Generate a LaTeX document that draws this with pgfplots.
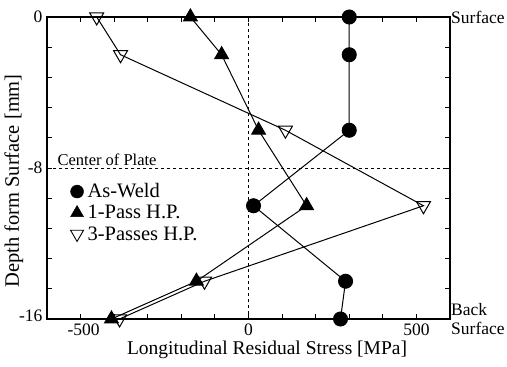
\documentclass[border=0pt]{standalone}
\usepackage{pgfplots}
\pgfplotsset{compat=1.18}
\usepackage{fontspec}
\setmainfont{Liberation Serif}
\begin{document}
\begin{tikzpicture}
\useasboundingbox (-47pt,-48pt) rectangle (460pt,319pt);
\begin{axis}[
  at={(0pt,0pt)}, anchor=south west,
  scale only axis,
  width=403pt, height=302pt,
  xmin=-600, xmax=600, ymin=-16, ymax=0,
  xtick={-500,0,500}, ytick={-16,-8,0},
  xticklabels={\hspace{6pt}-500, 0, 500},
  yticklabels={\raisebox{7pt}{-16}, -8, \raisebox{-6pt}{0}},
  minor x tick num=4, minor y tick num=4,
  tick pos=both, tick align=inside,
  major tick length=5pt, minor tick length=5pt,
  xticklabel pos=lower, yticklabel pos=left,
  axis line style={line width=1.3pt},
  every tick/.style={black, line width=0.9pt},
  ticklabel style={font=\fontsize{17.5}{19}\selectfont},
  xticklabel style={yshift=-1pt},
  yticklabel style={xshift=-1pt},
  xlabel={Longitudinal Residual Stress [MPa]},
  ylabel={Depth form Surface [mm]},
  xlabel style={font=\fontsize{19.5}{21}\selectfont, at={(axis description cs:0.546,-0.103)}, anchor=center},
  ylabel style={font=\fontsize{20.5}{22}\selectfont, at={(axis description cs:-0.082,0.457)}, anchor=center},
  clip=false,
  legend cell align=left,
  legend style={draw=none, fill=none, at={(axis description cs:0.058,0.452)}, anchor=north west,
    font=\fontsize{20.5}{22}\selectfont, row sep=4pt, inner sep=0pt,
    nodes={inner sep=1pt, inner xsep=4pt}},
]
\draw[dashed, line width=0.8pt] (axis cs:0,0) -- (axis cs:0,-16);
\draw[dashed, line width=0.8pt] (axis cs:-600,-8) -- (axis cs:600,-8);
\addlegendimage{only marks, black, mark=*, mark size=6.5pt}
\addlegendentry{As-Weld}
\addlegendimage{only marks, black, mark=triangle*, mark size=7.5pt}
\addlegendentry{1-Pass H.P.}
\addlegendimage{only marks, black, mark=triangle, mark size=7.5pt, mark options={fill=white, rotate=180, line width=0.9pt}}
\addlegendentry{3-Passes H.P.}
\addplot[forget plot, black, line width=1pt, mark=*, mark size=7pt] coordinates {
(300,0) (300,-2) (300,-6) (15,-10) (289,-14) (274,-16)};
\addplot[forget plot, black, line width=1pt, mark=triangle*, mark size=8pt] coordinates {
(-173,0) (-80,-2) (30,-6) (173,-10) (-155,-14) (-408,-16)};
\addplot[forget plot, black, line width=1pt, mark=triangle, mark size=8pt, mark options={fill=white, rotate=180, line width=1pt}] coordinates {
(-452,0) (-381,-2) (110,-6) (521,-10) (-131,-14) (-384,-16)};
\node[anchor=west, font=\fontsize{17.5}{19}\selectfont, inner sep=1pt] at (axis cs:600,0) {Surface};
\node[anchor=west, align=left, font=\fontsize{17.5}{19}\selectfont, inner sep=1pt] at (axis cs:600,-16) {Back\\Surface};
\node[anchor=south west, font=\fontsize{16.5}{18}\selectfont, inner sep=2pt] at (axis cs:-575,-8) {Center of Plate};
\end{axis}
\end{tikzpicture}
\end{document}
